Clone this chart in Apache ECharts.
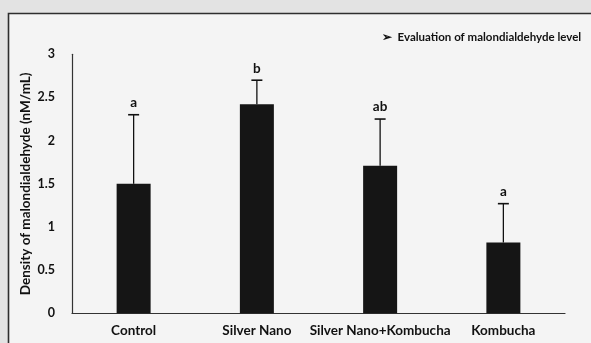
<!DOCTYPE html>
<html><head><meta charset="utf-8">
<script src="https://cdn.jsdelivr.net/npm/echarts@6/dist/echarts.min.js"></script>
<style>html,body{margin:0;padding:0;background:#e3e3e3;}#c{width:591px;height:343px;}</style>
</head><body><div id="c"></div>
<script>
const categories = ['Control', 'Silver Nano', 'Silver Nano+Kombucha', 'Kombucha'];
const means = [1.5, 2.42, 1.71, 0.82];
const errorTops = [2.3, 2.7, 2.25, 1.27];
const letters = ['a', 'b', 'ab', 'a'];
const yTicks = [0, 0.5, 1, 1.5, 2, 2.5, 3];

const FONT = 'Lato';
const chart = echarts.init(document.getElementById('c'), null, {renderer: 'canvas'});
chart.setOption({
  backgroundColor: '#e3e3e3',
  animation: false,
  graphic: [
    {type: 'rect', z: -10, silent: true, shape: {x: 8.5, y: 13.5, width: 640, height: 400},
     style: {fill: '#f4f4f4', stroke: '#2e2e2e', lineWidth: 1.6}},
    {type: 'text', left: 382, top: 31, style: {text: '\u27A2  Evaluation of malondialdehyde level', fill: '#111', font: 'bold 11.5px ' + FONT}}
  ],
  grid: {left: 72, right: 26, top: 54.3, bottom: 29.7, containLabel: false},
  xAxis: {
    type: 'category', data: categories,
    axisLine: {lineStyle: {color: '#333', width: 1.2}},
    axisTick: {show: false},
    axisLabel: {color: '#111', fontFamily: FONT, fontWeight: 'bold', fontSize: 13.5, margin: 10, interval: 0}
  },
  yAxis: {
    type: 'value', min: 0, max: 3, interval: 0.5,
    name: 'Density of malondialdehyde (nM/mL)', nameLocation: 'middle', nameGap: 46, nameRotate: 90,
    nameMoveOverlap: false,
    nameTextStyle: {color: '#111', fontFamily: FONT, fontWeight: 'bold', fontSize: 13.5, verticalAlign: 'middle'},
    axisLine: {show: true, lineStyle: {color: '#333', width: 1.2}},
    axisTick: {show: false},
    splitLine: {show: false},
    axisLabel: {color: '#111', fontFamily: FONT, fontWeight: 'bold', fontSize: 12.5, margin: 17,
      formatter: v => (yTicks.indexOf(v) >= 0 ? String(v) : '')}
  },
  series: [
    {type: 'bar', data: means, barWidth: 34, itemStyle: {color: '#151515'}},
    {type: 'custom', data: categories.map((c, i) => [i, means[i], errorTops[i]]),
     renderItem: function (params, api) {
       const i = api.value(0);
       const base = api.coord([i, api.value(1)]);
       const top = api.coord([i, api.value(2)]);
       const half = 5.5;
       return {type: 'group', children: [
         {type: 'line', shape: {x1: base[0], y1: base[1], x2: top[0], y2: top[1]}, style: {stroke: '#111', lineWidth: 1.3}},
         {type: 'line', shape: {x1: top[0] - half, y1: top[1], x2: top[0] + half, y2: top[1]}, style: {stroke: '#111', lineWidth: 1.6}},
         {type: 'text', style: {text: letters[params.dataIndex], x: top[0], y: top[1] - 5, align: 'center', verticalAlign: 'bottom', fill: '#111', font: 'bold 13.5px ' + FONT}}
       ]};
     }, z: 5}
  ]
});
</script></body></html>
